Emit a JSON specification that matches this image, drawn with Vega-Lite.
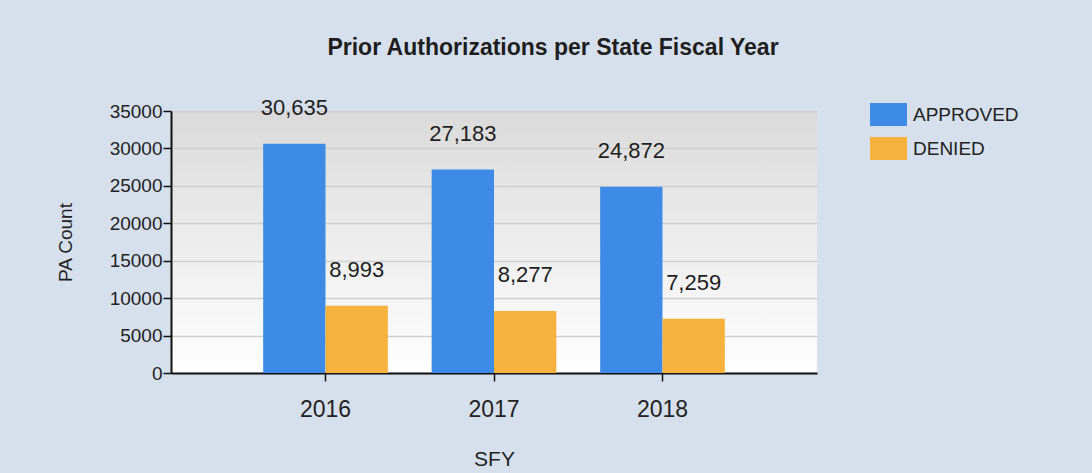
{
  "$schema": "https://vega.github.io/schema/vega-lite/v6.json",
  "width": 646,
  "height": 262,
  "autosize": {"type": "none"},
  "padding": {"left": 171, "top": 111, "right": 275, "bottom": 100},
  "background": "#d6e0ec",
  "title": {
    "text": "Prior Authorizations per State Fiscal Year",
    "font": "Liberation Sans",
    "fontSize": 23,
    "fontWeight": "bold",
    "color": "#1e1e1e",
    "anchor": "middle",
    "dx": 59,
    "offset": 36
  },
  "data": {
    "values": [
      {"SFY": "2016", "status": "APPROVED", "count": 30635},
      {"SFY": "2016", "status": "DENIED", "count": 8993},
      {"SFY": "2017", "status": "APPROVED", "count": 27183},
      {"SFY": "2017", "status": "DENIED", "count": 8277},
      {"SFY": "2018", "status": "APPROVED", "count": 24872},
      {"SFY": "2018", "status": "DENIED", "count": 7259}
    ]
  },
  "encoding": {
    "x": {
      "field": "SFY",
      "type": "nominal",
      "scale": {"paddingInner": 0.26, "paddingOuter": 0.547},
      "axis": {
        "title": "SFY",
        "labelAngle": 0,
        "labelFont": "Liberation Sans",
        "labelFontSize": 23,
        "labelColor": "#222",
        "labelPadding": 17,
        "titleFont": "Liberation Sans",
        "titleFontSize": 21,
        "titleFontWeight": "normal",
        "titleColor": "#222",
        "titlePadding": 27,
        "domainColor": "#111",
        "domainWidth": 2,
        "tickColor": "#111",
        "tickSize": 8,
        "tickWidth": 1.5,
        "grid": false
      }
    },
    "xOffset": {"field": "status", "type": "nominal"},
    "y": {
      "field": "count",
      "type": "quantitative",
      "scale": {"domain": [0, 35000], "nice": false},
      "axis": {
        "title": "PA Count",
        "values": [0, 5000, 10000, 15000, 20000, 25000, 30000, 35000],
        "format": "d",
        "labelFont": "Liberation Sans",
        "labelFontSize": 19,
        "labelColor": "#222",
        "labelPadding": 1,
        "titleFont": "Liberation Sans",
        "titleFontSize": 19,
        "titleFontWeight": "normal",
        "titleColor": "#222",
        "titlePadding": 34,
        "domainColor": "#111",
        "domainWidth": 2,
        "tickColor": "#111",
        "tickSize": 8,
        "tickWidth": 1.5,
        "gridColor": "#cfcfcf",
        "gridWidth": 1.5
      }
    },
    "color": {
      "field": "status",
      "type": "nominal",
      "scale": {"domain": ["APPROVED", "DENIED"], "range": ["#3d8be6", "#f7b13d"]},
      "legend": {
        "title": null,
        "orient": "none",
        "legendX": 699,
        "legendY": -15,
        "symbolType": "M-1,-0.62L1,-0.62L1,0.62L-1,0.62Z",
        "symbolSize": 1369,
        "symbolStrokeWidth": 0,
        "symbolOpacity": 1,
        "labelFont": "Liberation Sans",
        "labelFontSize": 19,
        "labelColor": "#222",
        "labelOffset": 6,
        "rowPadding": 4
      }
    }
  },
  "layer": [
    {"mark": {"type": "bar", "opacity": 1}},
    {
      "mark": {
        "type": "text",
        "baseline": "bottom",
        "dy": -24,
        "font": "Liberation Sans",
        "fontSize": 22,
        "color": "#1e1e1e"
      },
      "encoding": {
        "text": {"field": "count", "type": "quantitative", "format": ","},
        "color": {"value": "#1e1e1e"}
      }
    }
  ],
  "config": {
    "view": {
      "stroke": null,
      "fill": {
        "gradient": "linear",
        "x1": 0, "y1": 0, "x2": 0, "y2": 1,
        "stops": [
          {"offset": 0, "color": "#dadada"},
          {"offset": 1, "color": "#ffffff"}
        ]
      }
    }
  }
}
